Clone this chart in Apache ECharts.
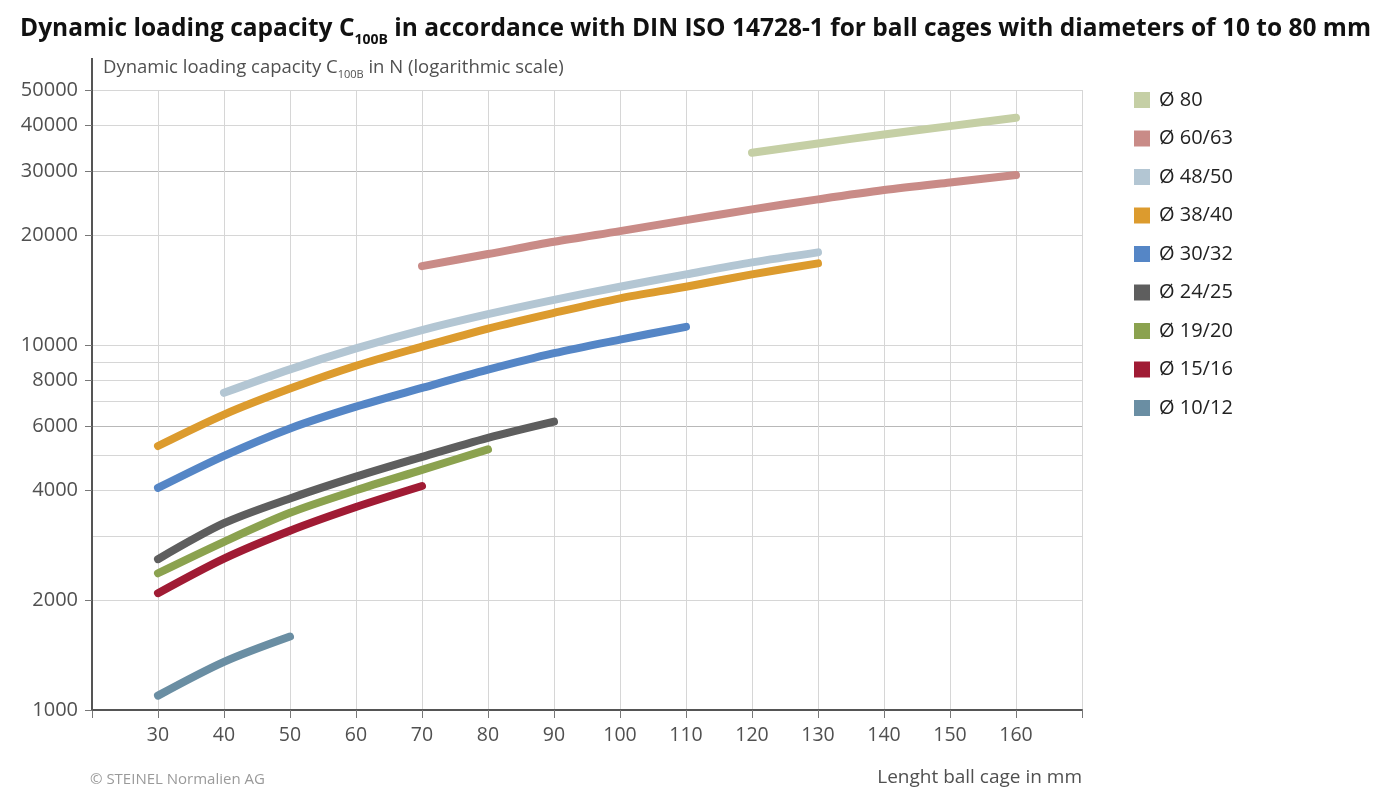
<!DOCTYPE html>
<html>
<head>
<meta charset="utf-8">
<script src="https://cdn.jsdelivr.net/npm/echarts@6/dist/echarts.min.js"></script>
<style>
  html, body { margin: 0; padding: 0; background: #fff; }
  #chart { width: 1400px; height: 811px; }
</style>
</head>
<body>
<div id="chart"></div>
<script>
// cage length (mm) along the x axis
const lengths = [30, 40, 50, 60, 70, 80, 90, 100, 110, 120, 130, 140, 150, 160]

// dynamic loading capacity C100B in N, aligned with lengths (null = no value)
const d80 = [null, null, null, null, null, null, null, null, null, 33650, 35690, 37770, 39810, 41960]
const d60 = [null, null, null, null, 16460, 17760, 19190, 20530, 22000, 23540, 25070, 26590, 27910, 29230]
const d48 = [null, 7400, 8580, 9790, 10990, 12150, 13300, 14450, 15620, 16850, 17950]
const d38 = [5290, 6450, 7600, 8780, 9900, 11100, 12250, 13430, 14450, 15620, 16750]
const d30 = [4060, 4970, 5910, 6780, 7630, 8560, 9500, 10350, 11220]
const d24 = [2590, 3250, 3800, 4360, 4940, 5570, 6170]
const d19 = [2370, 2890, 3470, 4000, 4550, 5180]
const d15 = [2090, 2600, 3100, 3600, 4110]
const d10 = [1095, 1355, 1590]

const seriesNames = ['Ø 80', 'Ø 60/63', 'Ø 48/50', 'Ø 38/40', 'Ø 30/32', 'Ø 24/25', 'Ø 19/20', 'Ø 15/16', 'Ø 10/12']
const seriesData = [d80, d60, d48, d38, d30, d24, d19, d15, d10]
const seriesColors = ['#c5cfa5', '#c98b87', '#b3c6d3', '#dc9b2e', '#5586c6', '#5e5e5e', '#8ba24f', '#a01b34', '#6a8ea3']

// axis ticks
const yLabelValues = [1000, 2000, 4000, 6000, 8000, 10000, 20000, 30000, 40000, 50000]
const yGridValues = [1000, 2000, 3000, 4000, 5000, 6000, 7000, 8000, 9000, 10000, 20000, 30000, 40000, 50000]
const yStrongGrid = [6000, 30000]

const pairs = vals => lengths.map((x, i) => [x, vals[i]]).filter(p => p[1] != null)

const labelColor = '#505050'
const font = '"Open Sans", "Noto Sans", sans-serif'

const logAxis = extra => Object.assign({
  type: 'log',
  logBase: 10,
  min: 1000,
  max: 50000,
  gridIndex: 0
}, extra)

const chart = echarts.init(document.getElementById('chart'))
chart.setOption({
  animation: false,
  textStyle: { fontFamily: font },
  title: [
    {
      left: 20,
      top: 17,
      padding: 0,
      text: '{a|Dynamic loading capacity C}{s|100B}{a| in accordance with DIN ISO 14728-1 for ball cages with diameters of 10 to 80 mm}',
      textStyle: {
        rich: {
          a: { fontFamily: font, fontWeight: 'bold', fontSize: 24.5, color: '#111', lineHeight: 30, verticalAlign: 'top' },
          s: { fontFamily: font, fontWeight: 'bold', fontSize: 14, color: '#111', lineHeight: 12, verticalAlign: 'bottom' }
        }
      }
    },
    {
      left: 103,
      top: 58,
      padding: 0,
      text: '{a|Dynamic loading capacity C}{s|100B}{a| in N (logarithmic scale)}',
      textStyle: {
        rich: {
          a: { fontFamily: font, fontWeight: 'normal', fontSize: 18.5, color: labelColor, lineHeight: 22, verticalAlign: 'top' },
          s: { fontFamily: font, fontWeight: 'normal', fontSize: 11, color: labelColor, lineHeight: 10, verticalAlign: 'bottom' }
        }
      }
    },
    {
      right: 318,
      top: 768,
      padding: 0,
      text: 'Lenght ball cage in mm',
      textStyle: { fontFamily: font, fontSize: 19, fontWeight: 'normal', color: labelColor }
    },
    {
      left: 90,
      top: 772,
      padding: 0,
      text: '© STEINEL Normalien AG',
      textStyle: { fontFamily: font, fontSize: 15, fontWeight: 'normal', color: '#9a9a9a' }
    }
  ],
  legend: {
    orient: 'vertical',
    left: 1134,
    top: 90,
    padding: 0,
    icon: 'rect',
    itemWidth: 16,
    itemHeight: 16,
    itemGap: 18.5,
    data: seriesNames,
    textStyle: { fontFamily: font, fontSize: 20, color: '#222', padding: [0, 0, 0, 4] }
  },
  grid: { left: 92, right: 318, top: 90, bottom: 101 },
  graphic: [
    {
      type: 'line',
      shape: { x1: 92, y1: 58, x2: 92, y2: 91 },
      style: { stroke: '#555', lineWidth: 2 }
    }
  ],
  xAxis: {
    type: 'value',
    min: 20,
    max: 170,
    interval: 10,
    axisLine: { lineStyle: { color: '#555', width: 2 } },
    axisTick: { length: 8, lineStyle: { color: '#777', width: 1 } },
    axisLabel: {
      fontSize: 19.5,
      color: labelColor,
      margin: 15,
      formatter: v => (v === 20 || v === 170) ? '' : String(v)
    },
    splitLine: { lineStyle: { color: '#d6d6d6', width: 1 } }
  },
  yAxis: [
    logAxis({
      axisLine: { show: true, lineStyle: { color: '#555', width: 2 } },
      axisTick: { show: true, length: 7, customValues: yLabelValues, lineStyle: { color: '#777' } },
      axisLabel: { fontSize: 20, color: labelColor, margin: 14, customValues: yLabelValues, formatter: v => String(v) },
      splitLine: { show: false },
      z: 3
    }),
    logAxis({
      axisLine: { show: false },
      axisTick: { show: false, customValues: yGridValues },
      axisLabel: { show: false },
      splitLine: { show: true, lineStyle: { color: '#d6d6d6', width: 1 } }
    }),
    logAxis({
      axisLine: { show: false },
      axisTick: { show: false, customValues: yStrongGrid },
      axisLabel: { show: false },
      splitLine: { show: true, lineStyle: { color: '#b8b8b8', width: 1 } }
    })
  ],
  series: seriesNames.map((name, i) => ({
    name: name,
    type: 'line',
    yAxisIndex: 0,
    data: pairs(seriesData[i]),
    smooth: 0.3,
    showSymbol: false,
    symbol: 'none',
    color: seriesColors[i],
    itemStyle: { color: seriesColors[i] },
    lineStyle: { color: seriesColors[i], width: 8, cap: 'round', join: 'round' },
    z: 5
  }))
})
</script>
</body>
</html>
